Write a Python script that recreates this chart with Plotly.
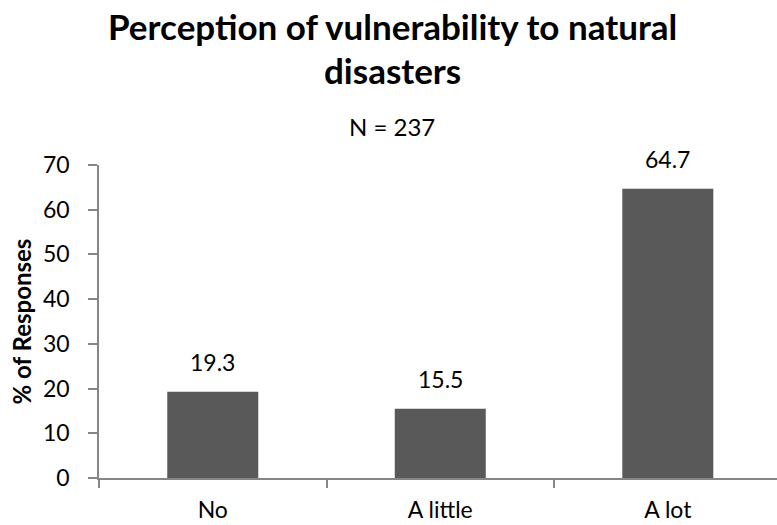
import plotly.graph_objects as go

# Survey results
categories = ["No", "A little", "A lot"]
percentages = [19.3, 15.5, 64.7]
y_ticks = [0, 10, 20, 30, 40, 50, 60, 70]

title_line1 = "Perception of vulnerability to natural"
title_line2 = "disasters"
subtitle = "N = 237"

FONT = "Lato"
BAR_COLOR = "#595959"
AXIS_COLOR = "#868686"

W, H = 777, 525
M_L, M_R, M_T, M_B = 99, 0, 165, 47
plot_w = W - M_L - M_R
plot_h = H - M_T - M_B


def paper_y(py):
    """Convert a pixel row (from top of the page) to paper y."""
    return (H - M_B - py) / plot_h


def paper_x(px):
    """Convert a pixel column (from left of the page) to paper x."""
    return (px - M_L) / plot_w


fig = go.Figure()
fig.add_trace(go.Bar(
    x=categories,
    y=percentages,
    width=0.4,
    marker=dict(color=BAR_COLOR, line=dict(width=0)),
    hoverinfo="skip",
))

# Value labels above each bar
for cat, val in zip(categories, percentages):
    fig.add_annotation(
        x=cat, y=val, xref="x", yref="y",
        text=f"{val:.1f}", showarrow=False,
        yanchor="bottom", yshift=14,
        font=dict(family=FONT, size=23, color="#000000"),
    )

# Title block, centred on the page
title_x = paper_x(392)
fig.add_annotation(
    x=title_x, y=paper_y(26), xref="paper", yref="paper", xanchor="center",
    yanchor="middle", text=f"<b>{title_line1}</b>", showarrow=False,
    font=dict(family=FONT, size=35, color="#000000"),
)
fig.add_annotation(
    x=title_x, y=paper_y(70), xref="paper", yref="paper", xanchor="center",
    yanchor="middle", text=f"<b>{title_line2}</b>", showarrow=False,
    font=dict(family=FONT, size=35, color="#000000"),
)
fig.add_annotation(
    x=title_x, y=paper_y(126), xref="paper", yref="paper", xanchor="center",
    yanchor="middle", text=subtitle, showarrow=False,
    font=dict(family=FONT, size=24, color="#000000"),
)

fig.update_layout(
    width=W, height=H,
    margin=dict(l=M_L, r=M_R, t=M_T, b=M_B, pad=0),
    paper_bgcolor="white", plot_bgcolor="white",
    showlegend=False,
    font=dict(family=FONT, size=23, color="#000000"),
    xaxis=dict(
        range=[-0.5, 2.48],
        showline=True, linecolor=AXIS_COLOR, linewidth=1.5,
        ticks="outside", ticklen=8, tickcolor=AXIS_COLOR, tickwidth=1.5,
        tickson="boundaries",
        showgrid=False, zeroline=False,
        tickfont=dict(family=FONT, size=23, color="#000000"),
        ticklabelstandoff=11,
    ),
    yaxis=dict(
        range=[0, 70],
        tickvals=y_ticks,
        showline=True, linecolor=AXIS_COLOR, linewidth=1.5,
        ticks="outside", ticklen=9, tickcolor=AXIS_COLOR, tickwidth=1.5,
        showgrid=False, zeroline=False,
        tickfont=dict(family=FONT, size=23, color="#000000"),
        ticklabelstandoff=14,
        title=dict(text="<b>% of Responses</b>", standoff=5,
                   font=dict(family=FONT, size=24, color="#000000")),
    ),
)

fig.write_html("out.html")
